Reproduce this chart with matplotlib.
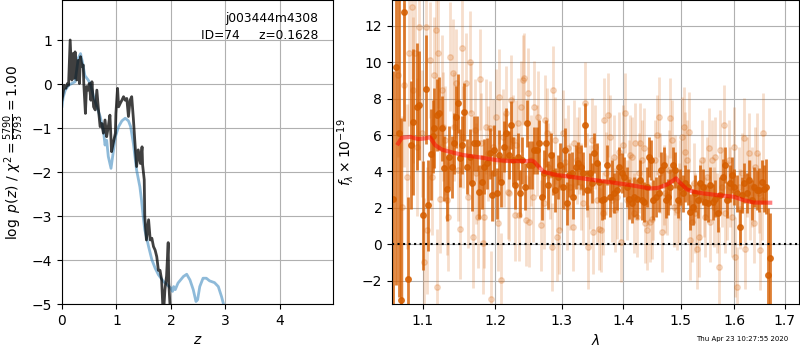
import matplotlib
matplotlib.use('Agg')
import matplotlib.pyplot as plt
from matplotlib.ticker import NullLocator, FixedLocator, FixedFormatter

# p(z) panel: noisy chi2-based curve and smoothed template curve
z_fit = [0.0, 0.01, 0.04, 0.07, 0.10, 0.12, 0.15, 0.18, 0.20, 0.22, 0.24, 0.27, 0.30, 0.32, 0.34,
         0.37, 0.39, 0.40, 0.43, 0.45, 0.48, 0.50, 0.53, 0.55, 0.58, 0.61, 0.64, 0.67, 0.70, 0.73,
         0.76, 0.79, 0.82, 0.85, 0.88, 0.91, 0.94, 0.98, 0.99, 1.02, 1.04, 1.07, 1.10, 1.13, 1.16,
         1.19, 1.22, 1.25, 1.28, 1.31, 1.34, 1.37, 1.40, 1.44, 1.47, 1.48, 1.51, 1.52, 1.55, 1.59,
         1.62, 1.65, 1.68, 1.71, 1.74, 1.77, 1.80, 1.83, 1.86, 1.89, 1.92, 1.95, 1.96, 1.98, 2.00]
lnp_fit = [-0.35, -0.28, -0.02, -0.09, 0.02, -0.02, 1.01, 0.10, 0.70, 0.14, 0.74, 0.10, 0.55, 0.02, 0.63,
           0.40, 0.44, 0.02, -0.66, -0.05, -0.13, 0.02, -0.36, 0.06, -0.51, -0.58, -0.13, -0.58, -0.96, -0.89,
           -1.11, -0.81, -1.19, -0.96, -0.70, -1.53, -1.34, -1.11, -0.66, -0.09, -0.51, -0.43, -0.36, -0.28, -0.36,
           -0.32, -0.73, -0.36, -0.28, -0.77, -1.34, -1.87, -1.49, -1.80, -1.42, -1.83, -2.17, -3.00, -3.54, -3.08,
           -3.54, -3.50, -3.69, -3.77, -3.92, -4.23, -4.23, -4.45, -5.30, -4.67, -4.36, -3.60, -4.50, -4.95, -5.30]

z_tmp = [0.0, 0.02, 0.06, 0.12, 0.18, 0.24, 0.30, 0.34, 0.38, 0.42, 0.48, 0.52, 0.58, 0.64, 0.70,
         0.76, 0.79, 0.82, 0.85, 0.90, 0.93, 0.98, 1.04, 1.10, 1.16, 1.22, 1.26, 1.31, 1.37, 1.43,
         1.46, 1.49, 1.52, 1.59, 1.65, 1.71, 1.77, 1.86, 1.95, 2.00, 2.03, 2.05, 2.08, 2.13, 2.23,
         2.29, 2.35, 2.41, 2.46, 2.49, 2.53, 2.59, 2.65, 2.71, 2.80, 2.87, 2.93, 2.97, 3.00]
lnp_tmp = [-0.50, -0.30, -0.13, -0.02, 0.02, 0.06, 0.60, 0.70, 0.48, 0.20, 0.10, 0.02, -0.28, -0.51, -0.73,
           -1.04, -1.38, -1.27, -1.64, -1.91, -1.64, -1.19, -0.96, -0.83, -0.77, -0.83, -0.96, -1.34, -1.95, -2.33,
           -2.63, -3.00, -3.31, -3.69, -3.99, -4.18, -4.33, -4.48, -4.58, -4.64, -4.71, -4.60, -4.67, -4.52, -4.37,
           -4.32, -4.45, -4.67, -4.94, -4.90, -4.60, -4.41, -4.41, -4.47, -4.51, -4.60, -4.83, -5.02, -5.20]

# G141 spectrum, binned (wavelength um, flux, error)
spec_bin = [
    (1.0620, 2.50, 7.0), (1.0652, 9.76, 12.0), (1.0693, 6.09, 9.0), (1.0719, -3.08, 10.0),
    (1.0749, 12.79, 6.0), (1.0813, -1.89, 4.5), (1.0848, 5.45, 3.5), (1.0878, 6.73, 4.0),
    (1.0922, 7.56, 3.5), (1.0956, 7.65, 3.0), (1.1009, 1.60, 3.0), (1.1040, 8.51, 3.0),
    (1.1076, 2.15, 2.5), (1.1111, 4.95, 2.5), (1.1133, 5.94, 2.0), (1.1156, 6.37, 2.2),
    (1.1187, 7.10, 2.0), (1.1223, 7.19, 2.0), (1.1255, 6.37, 1.8), (1.1286, 4.17, 1.8),
    (1.1323, 3.06, 1.8), (1.1350, 4.81, 1.7), (1.1391, 4.26, 1.7), (1.1423, 5.54, 1.7),
    (1.1450, 7.01, 1.7), (1.1482, 7.74, 1.6), (1.1505, 4.72, 1.6), (1.1538, 5.45, 1.6),
    (1.1566, 7.28, 1.6), (1.1599, 4.26, 1.5), (1.1637, 4.81, 1.5), (1.1670, 3.34, 1.5),
    (1.1703, 5.54, 1.5), (1.1741, 5.54, 1.5), (1.1774, 2.88, 1.5), (1.1811, 3.43, 1.5),
    (1.1844, 4.26, 1.5), (1.1882, 4.44, 1.4), (1.1920, 4.99, 1.4), (1.1953, 2.70, 1.4),
    (1.1986, 5.17, 1.4), (1.2025, 2.79, 1.4), (1.2059, 4.90, 1.4), (1.2088, 3.43, 1.4),
    (1.2123, 5.36, 1.4), (1.2162, 6.09, 1.4), (1.2196, 4.90, 1.3), (1.2225, 6.55, 1.3),
    (1.2260, 4.62, 1.3), (1.2294, 3.25, 1.3), (1.2333, 4.81, 1.3), (1.2368, 2.79, 1.3),
    (1.2402, 4.62, 1.3), (1.2441, 3.16, 1.3), (1.2476, 6.64, 1.3), (1.2505, 4.35, 1.3),
    (1.2546, 4.35, 1.3), (1.2582, 5.17, 1.3), (1.2617, 5.17, 1.3), (1.2658, 5.54, 1.3),
    (1.2694, 2.61, 1.3), (1.2730, 3.89, 1.3), (1.2760, 5.54, 1.3), (1.2796, 3.25, 1.3),
    (1.2832, 4.90, 1.2), (1.2862, 3.89, 1.2), (1.2903, 2.97, 1.2), (1.2939, 3.71, 1.2),
    (1.2975, 4.35, 1.2), (1.3016, 3.16, 1.2), (1.3053, 5.17, 1.2), (1.3090, 2.24, 1.2),
    (1.3122, 3.80, 1.2), (1.3160, 3.89, 1.2), (1.3186, 2.61, 1.2), (1.3229, 4.26, 1.2),
    (1.3266, 4.44, 1.2), (1.3303, 4.26, 1.2), (1.3346, 3.89, 1.2), (1.3372, 6.55, 1.2),
    (1.3410, 2.97, 1.1), (1.3452, 3.89, 1.1), (1.3489, 3.34, 1.1), (1.3522, 5.00, 1.1),
    (1.3561, 4.44, 1.1), (1.3606, 3.43, 1.1), (1.3645, 2.42, 1.1), (1.3684, 2.51, 1.1),
    (1.3728, 4.35, 1.1), (1.3773, 2.61, 1.1), (1.3812, 3.52, 1.1), (1.3851, 2.79, 1.1),
    (1.3895, 2.97, 1.1), (1.3934, 4.26, 1.1), (1.3978, 3.89, 1.1), (1.4017, 3.71, 1.1),
    (1.4062, 3.16, 1.1), (1.4102, 2.51, 1.1), (1.4148, 2.24, 1.1), (1.4187, 2.61, 1.1),
    (1.4233, 2.51, 1.1), (1.4278, 3.52, 1.1), (1.4318, 2.42, 1.1), (1.4358, 2.33, 1.1),
    (1.4403, 3.16, 1.1), (1.4443, 4.81, 1.1), (1.4477, 4.62, 1.1), (1.4518, 2.42, 1.1),
    (1.4560, 2.61, 1.1), (1.4607, 2.79, 1.0), (1.4649, 4.07, 1.0), (1.4697, 4.35, 1.0),
    (1.4738, 2.42, 1.0), (1.4774, 2.61, 1.0), (1.4816, 3.16, 1.0), (1.4857, 4.35, 1.0),
    (1.4905, 4.07, 1.0), (1.4952, 2.42, 1.0), (1.4994, 3.16, 1.0), (1.5043, 2.79, 1.0),
    (1.5085, 3.34, 1.0), (1.5128, 3.16, 1.0), (1.5177, 1.78, 1.0), (1.5226, 2.06, 1.0),
    (1.5268, 2.79, 1.0), (1.5311, 2.42, 1.0), (1.5360, 3.34, 1.0), (1.5403, 3.16, 1.0),
    (1.5451, 2.33, 1.0), (1.5494, 2.24, 1.0), (1.5544, 3.25, 1.0), (1.5589, 2.33, 1.0),
    (1.5639, 2.51, 1.0), (1.5684, 1.69, 1.0), (1.5734, 2.70, 1.0), (1.5779, 3.71, 1.0),
    (1.5817, 4.35, 1.0), (1.5861, 2.42, 1.0), (1.5911, 3.34, 1.0), (1.5956, 3.80, 1.0),
    (1.6000, 3.16, 1.0), (1.6052, 2.79, 1.0), (1.6104, 0.95, 1.0), (1.6149, 2.70, 1.0),
    (1.6195, 3.34, 1.1), (1.6247, 2.79, 1.1), (1.6292, 3.52, 1.1), (1.6344, 2.42, 1.1),
    (1.6390, 3.16, 1.1), (1.6442, 2.97, 1.1), (1.6487, 2.97, 1.2), (1.6539, 3.43, 1.2),
    (1.6586, 3.06, 1.3), (1.6626, 3.16, 1.5), (1.6666, -1.71, 3.7), (1.6707, -0.77, 2.5),
]

# unbinned pixels (wavelength um, flux, error)
spec_pix = [
    (1.0680, 9.30, 4.5), (1.0727, 2.06, 5.0), (1.0761, 8.75, 4.5), (1.0791, 3.71, 4.0),
    (1.0822, 10.50, 4.0), (1.0857, 13.06, 4.0), (1.0878, 8.48, 4.0), (1.0900, 10.50, 3.8),
    (1.0930, 5.36, 3.8), (1.0956, 11.96, 3.8), (1.0987, 6.09, 3.5), (1.1018, -0.97, 3.5),
    (1.1044, 11.96, 3.5), (1.1062, 0.77, 3.5), (1.1098, 10.13, 3.2), (1.1120, 3.71, 3.2),
    (1.1151, 9.30, 3.2), (1.1178, 11.78, 3.2), (1.1196, -2.35, 3.2), (1.1209, 10.50, 3.0),
    (1.1232, 2.51, 3.0), (1.1255, 8.48, 3.0), (1.1277, 6.46, 3.0), (1.1300, 5.72, 3.0),
    (1.1323, 2.42, 3.0), (1.1346, 1.50, 3.0), (1.1368, 10.31, 3.0), (1.1405, 9.39, 3.0),
    (1.1423, 6.46, 3.0), (1.1450, 8.84, 3.0), (1.1473, 4.07, 2.8), (1.1505, 0.86, 2.8),
    (1.1528, 10.77, 2.8), (1.1552, 5.91, 2.8), (1.1585, 8.84, 2.8), (1.1613, 2.61, 2.8),
    (1.1637, 10.04, 2.8), (1.1656, 7.19, 2.8), (1.1684, 0.40, 2.8), (1.1708, 6.28, 2.8),
    (1.1731, 3.89, 2.8), (1.1755, 1.50, 2.8), (1.1778, 9.06, 2.8), (1.1797, 5.54, 2.8),
    (1.1821, 0.04, 2.8), (1.1844, 1.50, 2.8), (1.1873, 6.46, 2.6), (1.1896, 4.99, 2.6),
    (1.1929, 6.37, 2.6), (1.1943, -2.99, 2.6), (1.1967, 5.36, 2.6), (1.1986, 3.89, 2.6),
    (1.2010, 7.01, 2.6), (1.2039, 1.14, 2.6), (1.2059, 8.11, 2.6), (1.2083, -1.98, 2.6),
    (1.2108, 5.91, 2.6), (1.2132, 4.62, 2.6), (1.2157, 7.19, 2.6), (1.2186, 2.88, 2.6),
    (1.2206, 2.79, 2.6), (1.2235, 7.93, 2.5), (1.2255, 5.72, 2.5), (1.2284, 1.60, 2.5),
    (1.2304, 5.45, 2.5), (1.2329, 6.64, 2.5), (1.2353, 1.60, 2.5), (1.2378, 7.56, 2.5),
    (1.2407, 9.03, 2.5), (1.2432, 9.12, 2.5), (1.2456, 1.32, 2.5), (1.2481, 8.29, 2.5),
    (1.2505, 1.23, 2.5), (1.2531, 4.62, 2.5), (1.2556, 2.61, 2.5), (1.2582, 7.56, 2.5),
    (1.2617, 5.17, 2.5), (1.2643, 7.01, 2.5), (1.2684, 1.05, 2.5), (1.2720, 2.24, 2.5),
    (1.2745, 6.83, 2.5), (1.2770, 6.09, 2.5), (1.2796, 4.26, 2.4), (1.2821, 3.80, 2.4),
    (1.2847, -0.15, 2.4), (1.2872, 8.48, 2.4), (1.2898, 5.72, 2.4), (1.2923, 0.40, 2.4),
    (1.2964, 0.77, 2.4), (1.2990, 3.16, 2.4), (1.3016, 6.09, 2.4), (1.3053, 4.53, 2.4),
    (1.3080, 2.06, 2.4), (1.3106, 5.27, 2.4), (1.3133, 3.16, 2.4), (1.3176, 0.95, 2.4),
    (1.3202, 5.54, 2.4), (1.3239, 4.62, 2.4), (1.3282, 5.17, 2.4), (1.3309, 3.16, 2.4),
    (1.3346, 2.24, 2.3), (1.3372, 7.74, 2.3), (1.3399, 3.80, 2.3), (1.3426, -0.15, 2.3),
    (1.3452, 3.16, 2.3), (1.3479, 5.72, 2.3), (1.3506, 0.68, 2.3), (1.3533, 5.36, 2.3),
    (1.3561, 2.42, 2.3), (1.3606, 0.86, 2.3), (1.3634, 0.77, 2.3), (1.3662, 1.69, 2.3),
    (1.3684, 6.83, 2.3), (1.3717, 3.89, 2.3), (1.3745, 7.10, 2.3), (1.3784, 5.91, 2.3),
    (1.3812, 2.42, 2.3), (1.3840, 4.81, 2.3), (1.3867, 1.87, 2.3), (1.3895, 2.61, 2.3),
    (1.3934, 5.08, 2.2), (1.3962, 0.13, 2.2), (1.3995, 5.45, 2.2), (1.4034, 7.19, 2.2),
    (1.4062, 2.42, 2.2), (1.4091, 3.52, 2.2), (1.4119, 4.90, 2.2), (1.4148, 4.81, 2.2),
    (1.4176, 1.69, 2.2), (1.4204, 5.54, 2.2), (1.4233, 1.50, 2.2), (1.4261, 3.89, 2.2),
    (1.4290, 5.54, 2.2), (1.4318, 4.62, 2.2), (1.4346, 5.27, 2.2), (1.4375, 1.14, 2.2),
    (1.4403, 0.77, 2.2), (1.4432, 3.16, 2.2), (1.4460, 1.23, 2.2), (1.4489, 1.41, 2.2),
    (1.4518, 2.42, 2.2), (1.4548, 4.62, 2.2), (1.4577, 6.00, 2.2), (1.4607, 7.01, 2.2),
    (1.4637, 3.89, 2.2), (1.4667, 0.68, 2.2), (1.4697, 3.25, 2.2), (1.4726, 2.79, 2.2),
    (1.4756, 2.70, 2.2), (1.4786, 4.07, 2.2), (1.4816, 6.92, 2.2), (1.4845, 5.72, 2.2),
    (1.4875, 2.06, 2.2), (1.4905, 3.80, 2.2), (1.4935, 1.87, 2.2), (1.4964, 2.24, 2.2),
    (1.4994, 3.52, 2.2), (1.5025, 5.91, 2.2), (1.5055, 6.46, 2.2), (1.5085, 5.08, 2.2),
    (1.5116, 4.62, 2.2), (1.5146, 6.18, 2.2), (1.5177, 0.22, 2.2), (1.5207, 1.23, 2.2),
    (1.5238, 3.34, 2.2), (1.5268, 1.69, 2.2), (1.5299, -0.24, 2.2), (1.5329, 0.40, 2.2),
    (1.5360, 2.42, 2.2), (1.5390, 4.62, 2.2), (1.5421, 2.61, 2.2), (1.5451, 1.50, 2.2),
    (1.5482, 3.71, 2.2), (1.5513, 5.27, 2.2), (1.5544, 1.23, 2.2), (1.5576, 4.62, 2.2),
    (1.5608, 2.06, 2.2), (1.5639, 4.81, 2.2), (1.5671, 1.69, 2.2), (1.5703, -1.25, 2.2),
    (1.5734, 5.17, 2.2), (1.5766, 3.16, 2.2), (1.5798, 6.55, 2.2), (1.5829, 1.69, 2.2),
    (1.5861, 2.42, 2.2), (1.5892, 4.62, 2.2), (1.5924, 3.16, 2.2), (1.5956, 1.50, 2.2),
    (1.5987, 5.36, 2.2), (1.6019, -0.70, 2.2), (1.6052, -2.35, 2.2), (1.6084, 3.16, 2.2),
    (1.6117, 1.96, 2.2), (1.6149, 3.89, 2.2), (1.6182, 5.82, 2.2), (1.6214, -0.24, 2.2),
    (1.6247, 3.71, 2.2), (1.6279, 4.99, 2.2), (1.6312, 2.42, 2.2), (1.6344, 3.16, 2.2),
    (1.6377, 1.14, 2.2), (1.6409, 4.26, 2.2), (1.6442, 4.99, 2.2), (1.6474, 2.79, 2.2),
    (1.6507, -0.33, 2.2), (1.6539, 2.42, 2.2), (1.6572, 6.09, 2.2),
]

# best-fit model
lam_model = [1.0680, 1.0727, 1.0835, 1.0943, 1.1031, 1.1098, 1.1165, 1.1255, 1.1414, 1.1552,
             1.1788, 1.2025, 1.2220, 1.2466, 1.2540, 1.2577, 1.2720, 1.2923, 1.3133, 1.3452,
             1.3840, 1.4119, 1.4460, 1.4607, 1.4756, 1.4875, 1.4917, 1.4964, 1.5116, 1.5238,
             1.5421, 1.5671, 1.5987, 1.6182, 1.6377, 1.6707]
flux_model = [5.54, 5.85, 5.90, 5.78, 5.82, 5.88, 5.45, 5.20, 5.03, 4.90,
              4.77, 4.62, 4.57, 4.57, 4.60, 4.53, 3.98, 3.80, 3.71, 3.56,
              3.38, 3.25, 3.06, 3.10, 3.28, 3.52, 3.62, 3.45, 3.01, 2.88,
              2.79, 2.70, 2.61, 2.42, 2.29, 2.28]

xticks = [1.1, 1.2, 1.3, 1.4, 1.5, 1.6, 1.7]
c141 = (0.8352941176470589, 0.3686274509803922, 0.0)

fig = plt.figure(figsize=(8, 3.5), dpi=100)

# left: p(z)
ax = fig.add_axes([0.0775, 0.131, 0.339, 0.869])
ax.plot(z_tmp, lnp_tmp, color='tab:blue', alpha=0.5, lw=2)
ax.plot(z_fit, lnp_fit, color='k', alpha=0.75, lw=2)
ax.set_xlim(0, 4.98)
ax.set_ylim(-5, 1.92)
ax.set_xticks([0, 1, 2, 3, 4])
ax.set_yticks([-5, -4, -3, -2, -1, 0, 1])
ax.grid()
ax.set_xlabel(r'$z$')
ax.set_ylabel(r'$\log\ p(z)$' + ' / ' + r'$\chi^2=\frac{5790}{5793}=1.00$')
ax.text(0.945, 0.96, 'j003444m4308\nID=74     z=0.1628', ha='right', va='top',
        multialignment='right', linespacing=1.4, transform=ax.transAxes, fontsize=8.8)

# right: spectrum
ax2 = fig.add_axes([0.49, 0.131, 0.509, 0.869])
for w, f, e in spec_pix:
    ax2.errorbar(w, f, yerr=e, marker='o', ms=4, color=c141, alpha=0.2, lw=2, linestyle='none')
for w, f, e in spec_bin:
    ax2.errorbar(w, f, yerr=e, marker='o', ms=4, color=c141, alpha=0.8, lw=2, linestyle='none')
ax2.plot(lam_model, flux_model, color='r', alpha=0.5, lw=3, zorder=10)
ax2.axhline(0, color='k', linestyle=':', lw=1.5, zorder=11)

ax2.set_xscale('log')
ax2.set_xlim(1.0601, 1.730)
ax2.set_ylim(-3.3, 13.43)
ax2.xaxis.set_major_locator(FixedLocator(xticks))
ax2.xaxis.set_major_formatter(FixedFormatter(['%.1f' % x for x in xticks]))
ax2.xaxis.set_minor_locator(NullLocator())
ax2.set_yticks([-2, 0, 2, 4, 6, 8, 10, 12])
ax2.grid()
ax2.set_xlabel(r'$\lambda$')
ax2.set_ylabel(r'$f_\lambda \times 10^{-19}$')

fig.text(0.985, 0.031, 'Thu Apr 23 10:27:55 2020', ha='right', va='center', fontsize=5)

fig.savefig('out.png', dpi=100)
